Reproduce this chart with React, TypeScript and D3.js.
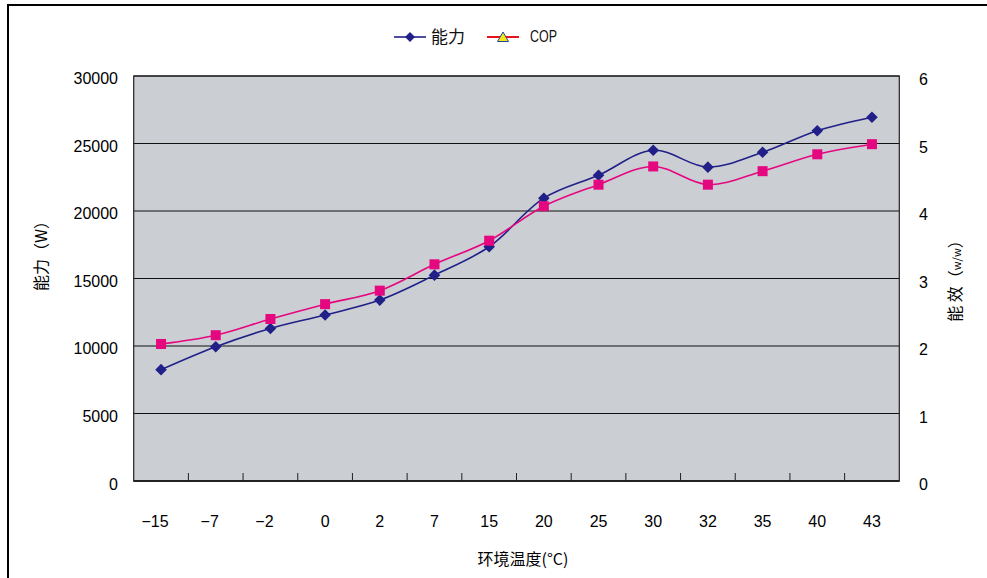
import React from "react";
import * as d3 from "d3";

const categories = ["-15", "-7", "-2", "0", "2", "7", "15", "20", "25", "30", "32", "35", "40", "43"];
const capacity = [8250, 9950, 11300, 12300, 13400, 15250, 17350, 20950, 22650, 24500, 23250, 24350, 25950, 26950];
const cop = [2.03, 2.16, 2.4, 2.62, 2.82, 3.21, 3.56, 4.07, 4.39, 4.66, 4.39, 4.59, 4.84, 4.99];
const leftTicks = [0, 5000, 10000, 15000, 20000, 25000, 30000];
const rightTicks = [0, 1, 2, 3, 4, 5, 6];

const W = 987, H = 578;
const plot = { left: 133.7, right: 899.3, top: 76, bottom: 481 };
const BLUE = "#202088";
const PINK = "#E5077F";
const NUM_FONT = "'Liberation Sans', Arial, sans-serif";
const CJK_FONT = "'Noto Sans CJK SC', 'Noto Sans', sans-serif";

export default function App() {
  const x = d3.scalePoint<string>().domain(categories).range([plot.left, plot.right]).padding(0.5);
  const step = x.step();
  const yL = d3.scaleLinear().domain([0, 30000]).range([plot.bottom, plot.top]);
  const yR = d3.scaleLinear().domain([0, 6]).range([plot.bottom, plot.top]);

  const curve = d3.curveCatmullRom.alpha(0.5);
  const lineCap = d3.line<number>().x((_, i) => x(categories[i])!).y((d) => yL(d)).curve(curve);
  const lineCop = d3.line<number>().x((_, i) => x(categories[i])!).y((d) => yR(d)).curve(curve);

  const diamond = (cx: number, cy: number, r: number) =>
    `M${cx},${cy - r}L${cx + r},${cy}L${cx},${cy + r}L${cx - r},${cy}Z`;

  return (
    <svg width={W} height={H} style={{ position: "absolute", left: 0, top: 0 }} xmlns="http://www.w3.org/2000/svg">
      <rect x={0} y={0} width={W} height={H} fill="#fff" />
      <rect x={8} y={5} width={W + 10} height={H + 10} fill="none" stroke="#000" strokeWidth={2} />

      {/* plot area */}
      <rect x={plot.left} y={plot.top} width={plot.right - plot.left} height={plot.bottom - plot.top} fill="#CBCED3" />
      {leftTicks.map((t) => (
        <line key={"g" + t} x1={plot.left} x2={plot.right} y1={yL(t)} y2={yL(t)} stroke="#111" strokeWidth={1.1} />
      ))}
      <rect x={plot.left} y={plot.top} width={plot.right - plot.left} height={plot.bottom - plot.top} fill="none" stroke="#222" strokeWidth={1.2} />
      <line x1={plot.left} x2={plot.right} y1={plot.bottom} y2={plot.bottom} stroke="#222" strokeWidth={2} />
      {categories.slice(1).map((c, i) => {
        const bx = plot.left + step * (i + 1);
        return <line key={"t" + c} x1={bx} x2={bx} y1={plot.bottom} y2={plot.bottom - 8} stroke="#222" strokeWidth={1} />;
      })}

      {/* left ticks labels */}
      {leftTicks.map((t) => (
        <text key={"l" + t} x={118} y={yL(t) + 8 + (t === 0 ? 1 : 0)} textAnchor="end" fontFamily={NUM_FONT} fontSize={16} fill="#000">
          {t}
        </text>
      ))}
      {rightTicks.map((t) => (
        <text key={"r" + t} x={919} y={yR(t) + 9} textAnchor="start" fontFamily={NUM_FONT} fontSize={16} fill="#000">
          {t}
        </text>
      ))}
      {categories.map((c) => (
        <text key={"x" + c} x={x(c)! + (c.startsWith("-") ? -6 : 0)} y={527} textAnchor="middle" fontFamily={NUM_FONT} fontSize={16} fill="#000">
          {c.replace("-", "−")}
        </text>
      ))}

      {/* axis titles */}
      <text x={523} y={565} textAnchor="middle" fontFamily={CJK_FONT} fontSize={16} fill="#000">
        环境温度(°C)
      </text>
      <text transform={`translate(47,252) rotate(-90)`} textAnchor="middle" fontFamily={CJK_FONT} fontSize={16} fill="#000">
        能力（W）
      </text>
      <text transform={`translate(961,277) rotate(-90)`} textAnchor="middle" fontFamily={CJK_FONT} fontSize={16} fill="#000">
        能 效（<tspan fontSize={11}>w/w</tspan>）
      </text>

      {/* series */}
      <path d={lineCap(capacity)!} fill="none" stroke={BLUE} strokeWidth={1.6} />
      <path d={lineCop(cop)!} fill="none" stroke={PINK} strokeWidth={1.6} />
      {capacity.map((v, i) => (
        <path key={"d" + i} d={diamond(x(categories[i])!, yL(v), 5.8)} fill={BLUE} />
      ))}
      {cop.map((v, i) => (
        <rect key={"s" + i} x={x(categories[i])! - 5} y={yR(v) - 5} width={10} height={10} fill={PINK} />
      ))}

      {/* legend */}
      <line x1={394} x2={426} y1={37} y2={37} stroke={BLUE} strokeWidth={1.6} />
      <path d={diamond(410, 37, 5)} fill={BLUE} />
      <text x={431} y={43} fontFamily={CJK_FONT} fontSize={17} fill="#111">能力</text>
      <line x1={487} x2={519} y1={37} y2={37} stroke="#E8141C" strokeWidth={2} />
      <path d="M503,32 L508.5,41.5 L497.5,41.5 Z" fill="#F5E614" stroke="#2040A0" strokeWidth={1} />
      <text x={530} y={42} fontFamily="'Liberation Sans Narrow', 'Liberation Sans', Arial, sans-serif" fontSize={16} fill="#111" textLength={27} lengthAdjust="spacingAndGlyphs">COP</text>
    </svg>
  );
}
